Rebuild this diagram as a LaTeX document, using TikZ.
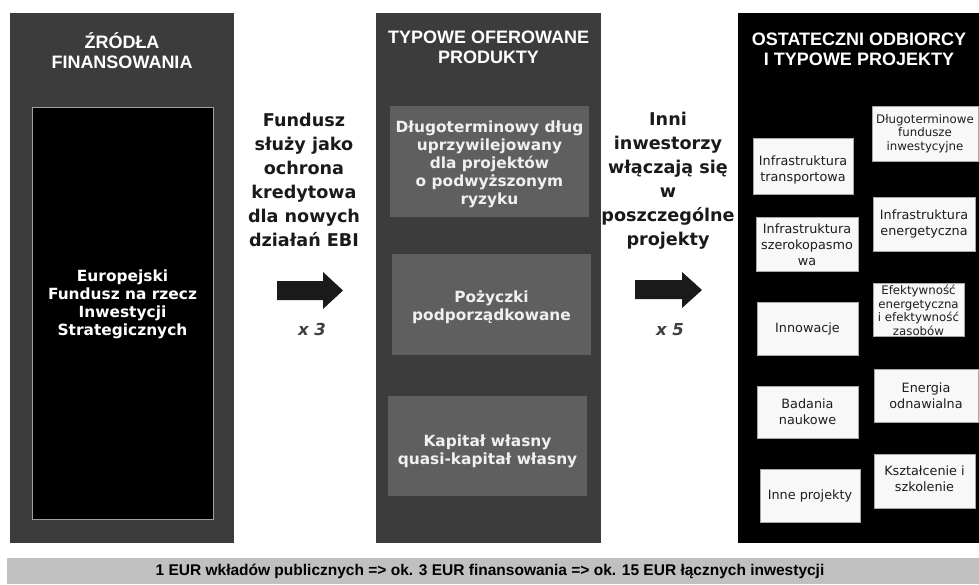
\documentclass[tikz,border=0pt]{standalone}
\usepackage{fontspec}
\setmainfont{Liberation Sans}
\newfontfamily\vfont{DejaVu Sans}
\definecolor{colgray}{HTML}{3C3C3C}
\definecolor{prodgray}{HTML}{5F5F5F}
\definecolor{boxwhite}{HTML}{F8F8F8}
\definecolor{boxborder}{HTML}{A8A8A8}
\definecolor{boxtext}{HTML}{1E1E1E}
\definecolor{midcol}{HTML}{1A1A1A}
\definecolor{multcol}{HTML}{404040}
\definecolor{barcol}{HTML}{C0C0C0}
\definecolor{innerborder}{HTML}{A0A0A0}
\definecolor{arrowcol}{HTML}{1A1A1A}
\begin{document}
\begin{tikzpicture}[x=1pt,y=-1pt,
  every node/.style={inner sep=0pt, outer sep=0pt},
  panel/.style={anchor=north west, fill=#1},
  prod/.style={anchor=north west, fill=prodgray},
  wbox/.style={anchor=north west, fill=boxwhite, draw=boxborder, line width=0.6pt},
  head/.style={text=white, font=\bfseries\fontsize{18}{20}\selectfont, align=center},
  prodtext/.style={text=white!94!black, font=\vfont\bfseries\fontsize{15.4}{18}\selectfont, align=center},
  wtext/.style={text=boxtext, font=\vfont\fontsize{12.8}{16}\selectfont, align=center},
  wsmall/.style={text=boxtext, font=\vfont\fontsize{11.8}{13.5}\selectfont, align=center},
  midtext/.style={text=midcol, font=\vfont\bfseries\fontsize{17.6}{24}\selectfont, align=center},
  mult/.style={text=multcol, font=\vfont\bfseries\itshape\fontsize{16.5}{18}\selectfont},
  bigarrow/.style={fill=arrowcol}
]
\useasboundingbox (0,0) rectangle (979,584);
\fill[white] (0,0) rectangle (979,584);

% columns
\node[panel=colgray, minimum width=224, minimum height=530] (c1) at (10,13) {};
\node[panel=colgray, minimum width=225, minimum height=530] (c2) at (376,13) {};
\node[panel=black, minimum width=241, minimum height=530] (c3) at (738,13) {};

% headings
\node[head] (h1) at (122,50.5) {ŹRÓDŁA\\FINANSOWANIA};
\node[head] (h2) at (488.5,47.5) {TYPOWE OFEROWANE\\PRODUKTY};
\node[head] (h3) at (859,49) {OSTATECZNI ODBIORCY\\I TYPOWE PROJEKTY};

% inner EFSI box
\node[anchor=north west, fill=black, draw=innerborder, line width=0.8pt, minimum width=181, minimum height=412] (efsi) at (32,107) {};
\node[prodtext, text=white] (efsit) at (122.5,304) {Europejski\\Fundusz na rzecz\\Inwestycji\\Strategicznych};

% product boxes
\node[prod, minimum width=199, minimum height=111] (p1) at (390,106) {};
\node[prodtext] (p1t) at (489.5,164) {Długoterminowy dług\\uprzywilejowany\\dla projektów\\o podwyższonym\\ryzyku};
\node[prod, minimum width=199, minimum height=101] (p2) at (392,254) {};
\node[prodtext] (p2t) at (491.5,307) {Pożyczki\\podporządkowane};
\node[prod, minimum width=199, minimum height=100] (p3) at (388,396) {};
\node[prodtext] (p3t) at (487.5,451) {Kapitał własny\\quasi-kapitał własny};

% middle texts
\node[midtext] (m1) at (304,180) {Fundusz\\służy jako\\ochrona\\kredytowa\\dla nowych\\działań EBI};
\node[midtext] (m2) at (668,181) {Inni\\inwestorzy\\włączają się\\w\\poszczególne\\projekty};

% big arrows
\coordinate (a1) at (277,281);
\fill[bigarrow] (a1) -- (323,281) -- (323,272) -- (343,290.5) -- (323,309) -- (323,300) -- (277,300) -- cycle;
\coordinate (a2) at (635,280);
\fill[bigarrow] (a2) -- (682,280) -- (682,272) -- (702,290) -- (682,308) -- (682,299) -- (635,299) -- cycle;
\node[mult] (x3) at (312,329) {x 3};
\node[mult] (x5) at (670,330) {x 5};

% right white boxes
\node[wbox, minimum width=106, minimum height=55] (r1) at (872,106) {};
\node[wsmall] at (r1.center) {Długoterminowe\\fundusze\\inwestycyjne};
\node[wbox, minimum width=100, minimum height=56] (r2) at (753,138) {};
\node[wtext] at (803,170) {Infrastruktura\\transportowa};
\node[wbox, minimum width=102, minimum height=54] (r3) at (756,217) {};
\node[wtext] at (807,245) {Infrastruktura\\szerokopasmo\\wa};
\node[wbox, minimum width=102, minimum height=54] (r4) at (873,197) {};
\node[wtext] at (r4.center) {Infrastruktura\\energetyczna};
\node[wbox, minimum width=91, minimum height=53] (r5) at (873,283) {};
\node[wsmall] at (918.5,310.5) {Efektywność\\energetyczna\\i efektywność\\zasobów};
\node[wbox, minimum width=101, minimum height=53] (r6) at (757,302) {};
\node[wtext] at (r6.center) {Innowacje};
\node[wbox, minimum width=104, minimum height=53] (r7) at (874,369) {};
\node[wtext] at (926,396) {Energia\\odnawialna};
\node[wbox, minimum width=101, minimum height=52] (r8) at (757,386) {};
\node[wtext] at (r8.center) {Badania\\naukowe};
\node[wbox, minimum width=101, minimum height=54] (r9) at (874,454) {};
\node[wtext] at (924.5,479) {Kształcenie i\\szkolenie};
\node[wbox, minimum width=100, minimum height=53] (r10) at (760,469) {};
\node[wtext] at (r10.center) {Inne projekty};

% bottom bar
\node[panel=barcol, minimum width=972, minimum height=26] (bar) at (7,558) {};
\node[text=black, font=\bfseries\fontsize{15.5}{20}\selectfont] (bart) at (490,571) {1 EUR wkładów publicznych => ok. 3 EUR finansowania => ok. 15 EUR łącznych inwestycji};
\end{tikzpicture}
\end{document}
